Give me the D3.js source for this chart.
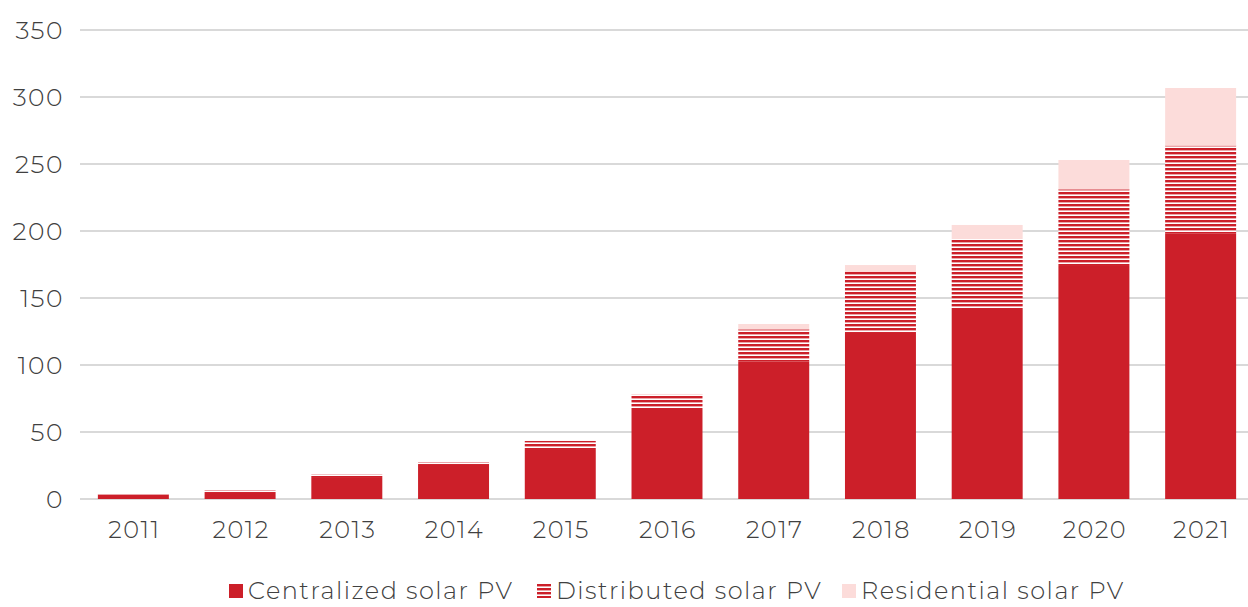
<!DOCTYPE html>
<html>
<head>
<meta charset="utf-8">
<script src="https://cdn.jsdelivr.net/npm/d3@7"></script>
<style>
  body { margin: 0; background: #fff; }
  svg text { font-family: "Montserrat", "Lato", "Open Sans", sans-serif; fill: #404040; font-weight: 300; letter-spacing: 1.5px; }
</style>
</head>
<body>
<svg id="drawing_region"></svg>
<script>
const years = ["2011","2012","2013","2014","2015","2016","2017","2018","2019","2020","2021"];
const centralized = [3.3, 4.5, 15.7, 25.4, 37.3, 67.9, 102.5, 123.9, 141.8, 174.6, 198.3];
const distributed = [0.4, 2.2, 2.7, 2.2, 6.0, 10.0, 24.1, 45.5, 52.2, 56.5, 65.4];
const residential = [0, 0, 0, 0, 0, 0.5, 4.0, 5.2, 10.5, 21.9, 43.0];
const yTicks = [0, 50, 100, 150, 200, 250, 300, 350];
const seriesNames = ["Centralized solar PV", "Distributed solar PV", "Residential solar PV"];

const width = 1248, height = 607;
const margin = {top: 30, right: 0, bottom: 108, left: 80};

const svg = d3.select('#drawing_region')
    .attr('width', width)
    .attr('height', height);

// hatch for distributed
const defs = svg.append('defs');
const pat = defs.append('pattern')
    .attr('id', 'hatch')
    .attr('patternUnits', 'userSpaceOnUse')
    .attr('width', 8).attr('height', 4);
pat.append('rect').attr('width', 8).attr('height', 4).attr('fill', '#fff');
pat.append('rect').attr('y', 0).attr('width', 8).attr('height', 2.4).attr('fill', '#cc1f29');

const colors = ['#cc1f29', 'url(#hatch)', '#fcdcda'];

const xscale = d3.scaleBand()
    .domain(years)
    .range([80, 1254])
    .paddingInner(0.335)
    .paddingOuter(0.1675);

const yscale = d3.scaleLinear()
    .domain([0, 350])
    .range([499, 30]);

// gridlines
svg.append('g').selectAll('line')
    .data(yTicks)
    .join('line')
    .attr('x1', margin.left).attr('x2', width)
    .attr('y1', d => yscale(d)).attr('y2', d => yscale(d))
    .attr('stroke', '#d9d9d9')
    .attr('stroke-width', 2);

// y labels
svg.append('g').selectAll('text')
    .data(yTicks)
    .join('text')
    .attr('x', 64)
    .attr('y', d => yscale(d))
    .attr('dy', '0.35em')
    .attr('text-anchor', 'end')
    .attr('font-size', 25)
    .text(d => d);

// stacked data
const table = years.map((y, i) => ({year: y, c: centralized[i], d: distributed[i], r: residential[i]}));
const stack = d3.stack().keys(['c', 'd', 'r'])(table);

svg.append('g').selectAll('g')
    .data(stack)
    .join('g')
    .attr('fill', (d, i) => colors[i])
    .selectAll('rect')
    .data(d => d)
    .join('rect')
    .attr('x', d => xscale(d.data.year))
    .attr('y', d => yscale(d[1]))
    .attr('width', xscale.bandwidth())
    .attr('height', d => Math.max(0, yscale(d[0]) - yscale(d[1])));

// x labels
svg.append('g').selectAll('text')
    .data(years)
    .join('text')
    .attr('x', d => xscale(d) + xscale.bandwidth() / 2 + 1)
    .attr('y', 530)
    .attr('dy', '0.35em')
    .attr('text-anchor', 'middle')
    .attr('font-size', 24)
    .text(d => d);

// legend (raised a little so the text is not clipped at the bottom)
const legendX = [229, 537, 842];
const lg = svg.append('g').selectAll('g')
    .data(seriesNames)
    .join('g')
    .attr('transform', (d, i) => `translate(${legendX[i]}, 584)`);
lg.append('rect')
    .attr('width', 14).attr('height', 14)
    .attr('fill', (d, i) => colors[i]);
lg.append('text')
    .attr('x', 19).attr('y', 7)
    .attr('dy', '0.35em')
    .attr('font-size', 24)
    .text(d => d);
</script>
</body>
</html>
